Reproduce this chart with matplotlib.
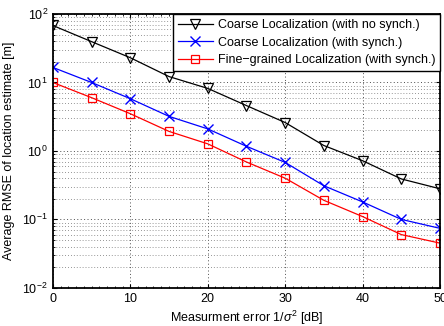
import matplotlib
matplotlib.use("Agg")
import matplotlib.pyplot as plt
from matplotlib.ticker import LogLocator, MultipleLocator, NullFormatter

plt.rcParams['font.family'] = ['Liberation Sans', 'DejaVu Sans']
plt.rcParams['mathtext.fontset'] = 'custom'
plt.rcParams['mathtext.rm'] = 'Liberation Sans'
plt.rcParams['mathtext.it'] = 'Liberation Sans:italic'

# data
snr_db = [0, 5, 10, 15, 20, 25, 30, 35, 40, 45, 50]
coarse_nosync = [68, 39.5, 23, 12.2, 8.2, 4.6, 2.6, 1.2, 0.72, 0.39, 0.28]
coarse_sync = [16.6, 10, 5.8, 3.2, 2.1, 1.17, 0.68, 0.31, 0.18, 0.10, 0.074]
fine_sync = [10, 6.0, 3.5, 1.93, 1.27, 0.69, 0.40, 0.19, 0.11, 0.06, 0.045]

labels = ['Coarse Localization (with no synch.)',
          'Coarse Localization (with synch.)',
          'Fine\u2212grained Localization (with synch.)']

fig = plt.figure(figsize=(4.44, 3.26), dpi=100)
ax = fig.add_axes([0.119, 0.117, 0.872, 0.84])

ax.semilogy(snr_db, coarse_nosync, color='black', marker='v', markersize=7,
            markerfacecolor='none', markeredgewidth=0.9, linewidth=0.9, label=labels[0])
ax.semilogy(snr_db, coarse_sync, color='blue', marker='x', markersize=6.5,
            markeredgewidth=1.0, linewidth=0.9, label=labels[1])
ax.semilogy(snr_db, fine_sync, color='red', marker='s', markersize=6,
            markerfacecolor='none', markeredgewidth=0.9, linewidth=0.9, label=labels[2])

ax.set_xlim(0, 50)
ax.set_ylim(1e-2, 1e2)
ax.xaxis.set_major_locator(MultipleLocator(10))
ax.xaxis.set_minor_locator(MultipleLocator(1))
ax.yaxis.set_major_locator(LogLocator(base=10, numticks=10))
ax.yaxis.set_minor_locator(LogLocator(base=10, subs=range(2, 10), numticks=10))
ax.yaxis.set_minor_formatter(NullFormatter())

ax.grid(True, which='major', axis='both', linestyle=(0, (1, 2.5)), color='0.3', linewidth=0.7)
ax.grid(True, which='minor', axis='y', linestyle=(0, (1, 2.5)), color='0.45', linewidth=0.6)
ax.tick_params(which='both', direction='in', top=True, right=True, labelsize=9)
ax.tick_params(which='major', length=3)
ax.tick_params(which='minor', length=1.5)
for s in ax.spines.values():
    s.set_linewidth(1.3)

ax.set_xlabel('Measurment error 1/$\\sigma^2$ [dB]', fontsize=9, labelpad=3)
ax.set_ylabel('Average RMSE of location estimate [m]', fontsize=9, labelpad=5)

leg = ax.legend(loc='upper right', fontsize=9, fancybox=False, framealpha=1,
                edgecolor='black', borderaxespad=0, handlelength=2.8,
                borderpad=0.4, labelspacing=0.45, handletextpad=0.4)
leg.get_frame().set_linewidth(1.0)

fig.savefig('out.png', dpi=100)
